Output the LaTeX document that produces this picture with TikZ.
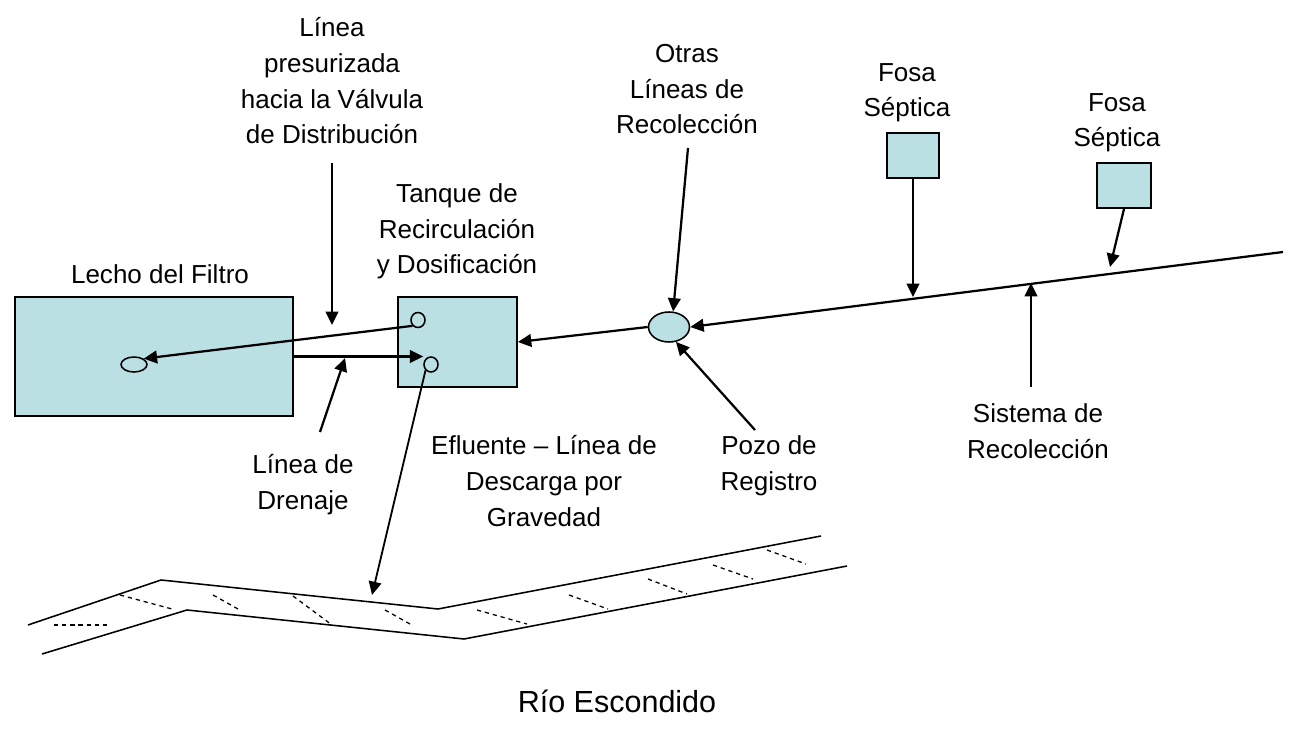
\documentclass[tikz,border=0pt]{standalone}
\usepackage{fontspec}
\setmainfont{Liberation Sans}
\usepackage{tikz}
\usetikzlibrary{arrows.meta, shapes.geometric, calc}

\definecolor{tankfill}{RGB}{187,224,227}

\begin{document}
\begin{tikzpicture}[x=0.025cm, y=-0.025cm,
    box/.style={draw, fill=tankfill, line width=1.3pt, inner sep=0pt},
    port/.style={ellipse, draw, line width=1.1pt, inner sep=0pt},
    flow/.style={-{Triangle[length=9.5pt, width=9pt]}, line width=1.6pt},
    lbl/.style={font=\fontsize{18.5pt}{25.3pt}\selectfont, align=center, anchor=base, inner sep=0pt},
    river/.style={line width=1.1pt},
    hatch/.style={line width=0.9pt, dash pattern=on 3pt off 2.8pt}]
    \useasboundingbox (0,0) rectangle (1291,729);

    % tanks and pits
    \node [box, minimum width=6.95cm, minimum height=2.975cm] (filter) at (154,356.5) {};
    \node [box, minimum width=2.975cm, minimum height=2.25cm] (tank) at (457.5,342) {};
    \node [box, minimum width=1.3cm, minimum height=1.125cm] (f1) at (913,155.5) {};
    \node [box, minimum width=1.35cm, minimum height=1.125cm] (f2) at (1124,185.5) {};
    \node [port, fill=tankfill, minimum width=1.025cm, minimum height=0.75cm] (mh) at (669,327) {};
    \node [port, fill=tankfill, minimum width=0.65cm, minimum height=0.375cm] (fout) at (134,364.5) {};
    \node [port, fill=tankfill, minimum width=0.35cm, minimum height=0.375cm] (pA) at (418,320) {};
    \node [port, fill=tankfill, minimum width=0.35cm, minimum height=0.375cm] (pB) at (431,364.5) {};

    % labels (base = last line)
    \node [lbl] (press) at (332,143.6) {Línea\\presurizada\\hacia la Válvula\\de Distribución};
    \node [lbl] (lecho) at (160,283) {Lecho del Filtro};
    \node [lbl] (tanque) at (457,273.6) {Tanque de\\Recirculación\\y Dosificación};
    \node [lbl] (otras) at (687,133.6) {Otras\\Líneas de\\Recolección};
    \node [lbl] (fosa1) at (907,116.6) {Fosa\\Séptica};
    \node [lbl] (fosa2) at (1117,146.6) {Fosa\\Séptica};
    \node [lbl] (drenaje) at (303,509) {Línea de\\Drenaje};
    \node [lbl] (efluente) at (544,526) {Efluente – Línea de\\Descarga por\\Gravedad};
    \node [lbl] (pozo) at (769,490) {Pozo de\\Registro};
    \node [lbl] (sistema) at (1038,458) {Sistema de\\Recolección};
    \node [lbl, font=\fontsize{21.7pt}{26pt}\selectfont] (rio) at (617,712) {Río Escondido};

    % free ends
    \coordinate (colEnd) at (1283,252);
    \coordinate (j1) at (913,297);
    \coordinate (j2) at (1110,267);
    \coordinate (j3) at (1031,283);
    \coordinate (sisT) at (1031,387);
    \coordinate (pressT) at (332,163);
    \coordinate (pressH) at (332,325);
    \coordinate (drenT) at (320,432);
    \coordinate (drenH) at (345,358);
    \coordinate (otrasT) at (688,148);
    \coordinate (pozoT) at (755,430);
    \coordinate (outfall) at (372,595);

    % flows
    \draw [flow] (colEnd) -- (mh.east);
    \draw [flow] (mh.west) -- (tank.east);
    \draw [flow] (pA.south west) -- (fout.north east);
    \draw [flow] (filter.east) -- (filter.east -| pB.west);
    \draw [flow] (f1.south) -- (j1);
    \draw [flow] (f2.south) -- (j2);

    % pointers
    \draw [flow] (pressT) -- (pressH);
    \draw [flow] (drenT) -- (drenH);
    \draw [flow] (otrasT) -- (mh.75);
    \draw [flow] (pozoT) -- (mh.-65);
    \draw [flow] (sisT) -- (j3);
    \draw [flow, line width=1.3pt] (pB.south west) -- (outfall);

    % river
    \draw [river] (28,625) -- (161,580) -- (438,609) -- (821,536);
    \draw [river] (42,654) -- (187,610) -- (464,639) -- (847,566);
    \foreach \xa/\ya/\xb/\yb in {54/625/107/625, 120/595/172/609, 213/595/238/609,
        293/596/332/625, 385/610/410/624, 477/610/527/624, 569/595/608/609,
        648/579/687/594, 713/565/753/579, 767/550/806/564}
        \draw [hatch] (\xa,\ya) -- (\xb,\yb);
\end{tikzpicture}
\end{document}
